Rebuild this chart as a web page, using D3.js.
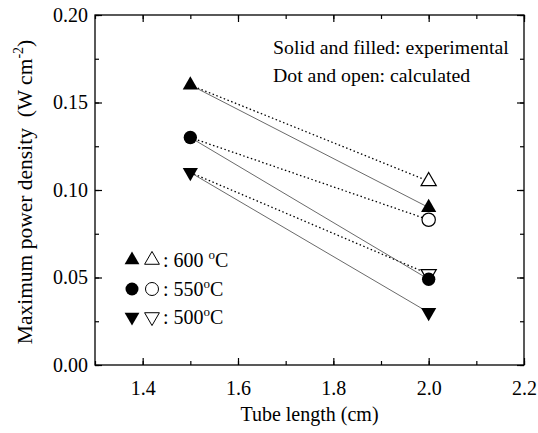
<!DOCTYPE html>
<html>
<head>
<meta charset="utf-8">
<script src="https://cdn.jsdelivr.net/npm/d3@7"></script>
<style>
  body { margin: 0; background: #fff; }
</style>
</head>
<body>
<div id="chart"></div>
<script>
// tube length (cm)
const lengths = [1.5, 2.0];
const temps = ["600", "550", "500"];
const experimental = [[0.16, 0.090], [0.13, 0.049], [0.11, 0.030]];
const calculated = [[0.16, 0.105], [0.13, 0.083], [0.11, 0.052]];
const xTicks = [1.4, 1.6, 1.8, 2.0, 2.2];
const yTicks = [0.00, 0.05, 0.10, 0.15, 0.20];

const FONT = "'Liberation Serif', 'DejaVu Serif', serif";
const width = 538, height = 433;
const margin = {left: 95, right: 14, top: 15, bottom: 68};

const svg = d3.select("#chart").append("svg")
    .attr("width", width).attr("height", height)
    .style("font-family", FONT);

const x = d3.scaleLinear().domain([1.3, 2.2]).range([margin.left, width - margin.right]);
const y = d3.scaleLinear().domain([0, 0.20]).range([height - margin.bottom, margin.top]);

const symbols = [d3.symbolTriangle, d3.symbolCircle, d3.symbolTriangle];
const sizes = [100, 140, 100];
const rot = [0, 0, 180];

// frame
svg.append("rect")
    .attr("x", x(1.3)).attr("y", y(0.2))
    .attr("width", x(2.2) - x(1.3)).attr("height", y(0) - y(0.2))
    .attr("fill", "none").attr("stroke", "#000").attr("stroke-width", 1.3);

const xMinor = d3.range(1.3, 2.21, 0.1);
const yMinor = d3.range(0, 0.201, 0.025);

// bottom and top ticks (inward)
svg.append("g").attr("transform", `translate(0,${y(0)})`)
    .call(d3.axisBottom(x).tickValues(xMinor).tickSize(-4).tickFormat(""))
    .call(g => g.select(".domain").remove());
svg.append("g").attr("transform", `translate(0,${y(0)})`)
    .call(d3.axisBottom(x).tickValues(xTicks).tickSize(-7).tickPadding(16).tickFormat(d3.format(".1f")))
    .call(g => g.select(".domain").remove());
svg.append("g").attr("transform", `translate(0,${y(0.2)})`)
    .call(d3.axisTop(x).tickValues(xMinor).tickSize(-4).tickFormat(""))
    .call(g => g.select(".domain").remove());
svg.append("g").attr("transform", `translate(0,${y(0.2)})`)
    .call(d3.axisTop(x).tickValues(xTicks).tickSize(-7).tickFormat(""))
    .call(g => g.select(".domain").remove());

// left and right ticks
svg.append("g").attr("transform", `translate(${x(1.3)},0)`)
    .call(d3.axisLeft(y).tickValues(yMinor).tickSize(-4).tickFormat(""))
    .call(g => g.select(".domain").remove());
svg.append("g").attr("transform", `translate(${x(1.3)},0)`)
    .call(d3.axisLeft(y).tickValues(yTicks).tickSize(-7).tickPadding(7).tickFormat(d3.format(".2f")))
    .call(g => g.select(".domain").remove());
svg.append("g").attr("transform", `translate(${x(2.2)},0)`)
    .call(d3.axisRight(y).tickValues(yMinor).tickSize(-4).tickFormat(""))
    .call(g => g.select(".domain").remove());
svg.append("g").attr("transform", `translate(${x(2.2)},0)`)
    .call(d3.axisRight(y).tickValues(yTicks).tickSize(-7).tickFormat(""))
    .call(g => g.select(".domain").remove());

svg.selectAll(".tick line").attr("stroke", "#000").attr("stroke-width", 1.2);
svg.selectAll(".tick text").attr("font-size", 20).attr("font-family", null).style("font-family", FONT);
svg.selectAll("g").attr("font-family", null);

// lines
const line = d3.line().x((d, i) => x(lengths[i])).y(d => y(d));
svg.append("g").selectAll("path").data(calculated).join("path")
    .attr("d", line).attr("fill", "none")
    .attr("stroke", "#000").attr("stroke-width", 1.3).attr("stroke-dasharray", "1.5,2.5");
svg.append("g").selectAll("path").data(experimental).join("path")
    .attr("d", line).attr("fill", "none")
    .attr("stroke", "#444").attr("stroke-width", 0.8);

// open markers (calculated at 2.0)
svg.append("g").selectAll("path").data(calculated).join("path")
    .attr("d", (d, i) => d3.symbol(symbols[i], sizes[i])())
    .attr("transform", (d, i) => `translate(${x(lengths[1])},${y(d[1])}) rotate(${rot[i]})`)
    .attr("fill", "#fff").attr("stroke", "#000").attr("stroke-width", 1.2);

// filled markers (experimental)
experimental.forEach((s, i) => {
  svg.append("g").selectAll("path").data(s).join("path")
      .attr("d", d3.symbol(symbols[i], sizes[i])())
      .attr("transform", (d, j) => `translate(${x(lengths[j])},${y(d)}) rotate(${rot[i]})`)
      .attr("fill", "#000");
});

// note
const note = svg.append("g").attr("font-size", 19.8);
note.append("text").attr("x", 273).attr("y", 54).text("Solid and filled: experimental");
note.append("text").attr("x", 273).attr("y", 82).text("Dot and open: calculated");

// legend
const legY = [260, 289, 317];
temps.forEach((t, i) => {
  const g = svg.append("g").attr("transform", `translate(0,${legY[i]})`);
  g.append("path").attr("d", d3.symbol(symbols[i], sizes[i] * 0.95)())
      .attr("transform", `translate(132,0) rotate(${rot[i]})`).attr("fill", "#000");
  g.append("path").attr("d", d3.symbol(symbols[i], sizes[i] * 0.95)())
      .attr("transform", `translate(152,0) rotate(${rot[i]})`)
      .attr("fill", "#fff").attr("stroke", "#000").attr("stroke-width", 1);
  const tx = g.append("text").attr("x", 163).attr("y", 7).attr("font-size", 20);
  tx.append("tspan").text(i === 0 ? ": " + t + " " : ": " + t);
  tx.append("tspan").attr("font-size", 13).attr("dy", -8).text("o");
  tx.append("tspan").attr("dy", 8).text("C");
});

// axis titles
svg.append("text")
    .attr("x", x(1.75)).attr("y", 421)
    .attr("text-anchor", "middle").attr("font-size", 20)
    .text("Tube length (cm)");

const yt = svg.append("text")
    .attr("transform", `translate(32,${y(0.1) + 2}) rotate(-90)`)
    .attr("text-anchor", "middle").attr("font-size", 21.5)
    .style("white-space", "pre");
yt.append("tspan").text("Maximum power density  (W cm");
yt.append("tspan").attr("font-size", 14).attr("dy", -9).text("-2");
yt.append("tspan").attr("dy", 9).text(")");
</script>
</body>
</html>
